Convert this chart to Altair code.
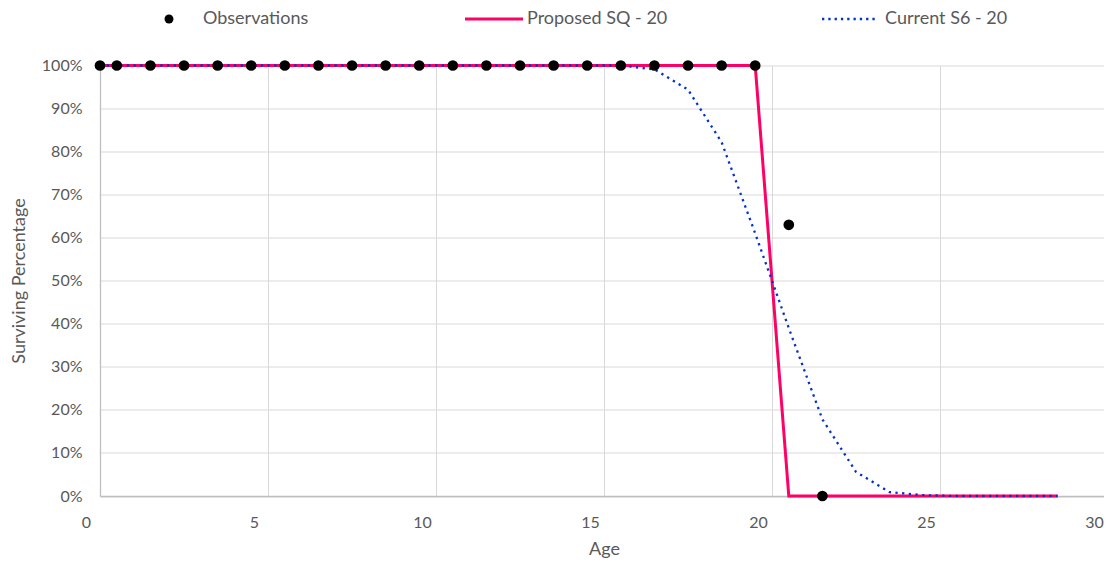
import altair as alt
import pandas as pd

# ---- data ----
obs_age = [0, 0.5, 1.5, 2.5, 3.5, 4.5, 5.5, 6.5, 7.5, 8.5, 9.5, 10.5, 11.5,
           12.5, 13.5, 14.5, 15.5, 16.5, 17.5, 18.5, 19.5, 20.5, 21.5]
obs_pct = [1, 1, 1, 1, 1, 1, 1, 1, 1, 1, 1, 1, 1,
           1, 1, 1, 1, 1, 1, 1, 1, 0.63, 0]

curve_age = [0, 0.5, 1.5, 2.5, 3.5, 4.5, 5.5, 6.5, 7.5, 8.5, 9.5, 10.5, 11.5,
             12.5, 13.5, 14.5, 15.5, 16.5, 17.5, 18.5, 19.5, 20.5, 21.5,
             22.5, 23.5, 24.5, 25.5, 26.5, 27.5, 28.5]
sq_pct = [1, 1, 1, 1, 1, 1, 1, 1, 1, 1, 1, 1, 1,
          1, 1, 1, 1, 1, 1, 1, 1, 0, 0,
          0, 0, 0, 0, 0, 0, 0]
s6_pct = [1, 1, 1, 1, 1, 1, 1, 1, 1, 1, 1, 1, 1,
          1, 1, 1, 1, 0.991, 0.944, 0.822, 0.61, 0.39, 0.178,
          0.056, 0.009, 0.002, 0, 0, 0, 0]

x_ticks = [0, 5, 10, 15, 20, 25, 30]
y_ticks = [0, 0.1, 0.2, 0.3, 0.4, 0.5, 0.6, 0.7, 0.8, 0.9, 1.0]
legend_labels = ["Observations", "Proposed SQ - 20", "Current S6 - 20"]

FONT = "Lato"
TXT = "#595959"
RED = "#ff0066"
BLUE = "#0033cc"

obs_df = pd.DataFrame({"age": obs_age, "pct": obs_pct})
curve_df = pd.DataFrame({"age": curve_age, "sq": sq_pct, "s6": s6_pct})

xscale = alt.Scale(domain=[0, 30], range=[0, 1008], nice=False, zero=False)
yscale = alt.Scale(domain=[0, 1], nice=False)

xaxis = alt.Axis(values=x_ticks, title="Age", grid=True, gridColor="#d9d9d9",
                 domainColor="#bfbfbf", domainWidth=1.3, ticks=False,
                 labelFlush=False, labelOffset=-14, labelPadding=18,
                 labelFont=FONT, labelFontSize=16, labelColor=TXT,
                 titleFont=FONT, titleFontSize=18, titleColor=TXT,
                 titleFontWeight="normal", titleBaseline="middle", titleY=53)
yaxis = alt.Axis(values=y_ticks, format=".0%", title="Surviving Percentage",
                 grid=True, gridColor="#d9d9d9", domainColor="#bfbfbf", domainWidth=1.3,
                 ticks=False, labelPadding=18, labelFont=FONT, labelFontSize=16,
                 labelColor=TXT, titleFont=FONT, titleFontSize=18, titleColor=TXT,
                 titleFontWeight="normal", titleBaseline="middle", titleX=-81, titleY=215)

base = alt.Chart(curve_df)

sq_line = base.mark_line(color=RED, strokeWidth=3).encode(
    x=alt.X("age:Q", scale=xscale, axis=xaxis),
    y=alt.Y("sq:Q", scale=yscale, axis=yaxis),
)
s6_line = base.mark_line(color=BLUE, strokeWidth=2.3, strokeDash=[2.3, 4.4],
                         strokeCap="butt").encode(
    x=alt.X("age:Q", scale=xscale),
    y=alt.Y("s6:Q", scale=yscale),
)
points = alt.Chart(obs_df).mark_point(filled=True, color="black", size=115,
                                      opacity=1, shape="circle").encode(
    x=alt.X("age:Q", scale=xscale),
    y=alt.Y("pct:Q", scale=yscale),
)

# ---- legend (decorative, placed above plot) ----
LY = -46.5
lg_dot = alt.Chart(pd.DataFrame({"n": [legend_labels[0]]})).mark_point(
    filled=True, color="black", size=80, opacity=1, shape="circle").encode(
    x=alt.value(69), y=alt.value(LY))
lg_red = alt.Chart(pd.DataFrame({"n": [legend_labels[1]]})).mark_rule(
    color=RED, strokeWidth=3).encode(x=alt.value(365), x2=alt.value(423), y=alt.value(LY))
lg_blue = alt.Chart(pd.DataFrame({"n": [legend_labels[2]]})).mark_rule(
    color=BLUE, strokeWidth=2.3, strokeDash=[2.3, 4.0], strokeCap="butt").encode(
    x=alt.value(722), x2=alt.value(777), y=alt.value(LY))

def lg_text(label, xpos):
    return alt.Chart(pd.DataFrame({"n": [label]})).mark_text(
        align="left", baseline="middle", font=FONT, fontSize=18, color=TXT).encode(
        text="n:N", x=alt.value(xpos), y=alt.value(LY))

chart = alt.layer(
    sq_line, s6_line, points,
    lg_dot, lg_red, lg_blue,
    lg_text(legend_labels[0], 103),
    lg_text(legend_labels[1], 427),
    lg_text(legend_labels[2], 785),
).properties(
    width=1003, height=430.5,
    autosize=alt.AutoSizeParams(type="none"),
    padding={"left": 92, "top": 57.5, "right": 1, "bottom": 64},
    background="white",
).configure_view(stroke=None)

chart.save("out.html", embed_options={"renderer": "svg", "actions": False})
